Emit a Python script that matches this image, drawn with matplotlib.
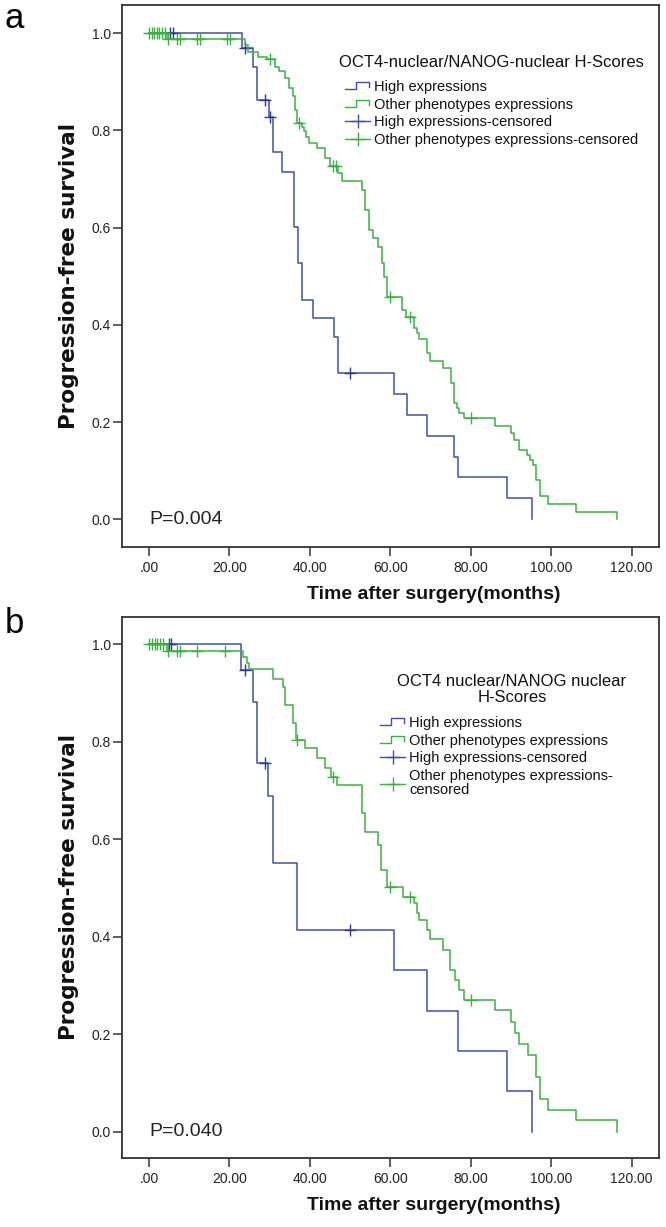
import matplotlib
matplotlib.use("Agg")
import matplotlib.pyplot as plt
import numpy as np
from matplotlib.lines import Line2D
from matplotlib.legend_handler import HandlerBase
from matplotlib.ticker import FuncFormatter

# ---- data ----
# panel a
a_high_t = [23.1, 25.9, 26.8, 29.9, 30.9, 33.0, 36.1, 37.0, 38.0, 40.9, 46.1, 47.1,
            61.0, 64.1, 69.1, 75.9, 76.9, 89.1, 95.2]
a_high_s = [0.969, 0.931, 0.862, 0.828, 0.755, 0.715, 0.602, 0.527, 0.451, 0.414, 0.376, 0.300,
            0.258, 0.215, 0.172, 0.129, 0.086, 0.043, 0.0]
a_high_cens = [5.2, 5.9, 24.0, 28.9, 30.2, 50.0]

a_other_t = [4.4, 23.9, 24.7, 27.2, 29.3, 31.3, 32.4, 33.8, 34.7, 35.9,
             36.3, 36.9, 38.0, 38.6, 39.1, 39.9, 41.7, 43.8, 44.9, 46.9,
             47.9, 52.9, 53.7, 54.6, 55.8, 57.0, 57.9, 58.5, 59.3, 62.9,
             63.9, 65.8, 66.6, 67.2, 69.1, 69.9, 73.2, 75.1, 75.9, 76.5,
             77.2, 78.2, 86.1, 90.0, 90.8, 92.1, 93.9, 94.8, 95.6, 96.2,
             97.3, 99.3, 106.2, 116.3]
a_other_s = [0.988, 0.976, 0.962, 0.952, 0.946, 0.931, 0.922, 0.907, 0.887, 0.870,
             0.842, 0.815, 0.806, 0.798, 0.787, 0.774, 0.763, 0.743, 0.727, 0.712,
             0.695, 0.678, 0.636, 0.595, 0.578, 0.561, 0.527, 0.499, 0.458, 0.431,
             0.417, 0.393, 0.383, 0.370, 0.342, 0.326, 0.311, 0.280, 0.239, 0.228,
             0.218, 0.208, 0.192, 0.177, 0.163, 0.143, 0.132, 0.122, 0.112, 0.081,
             0.048, 0.031, 0.016, 0.0]
a_other_cens = [0.0, 0.7, 1.3, 2.0, 2.6, 3.3, 4.0, 4.8, 6.9, 7.7, 11.9, 12.7, 19.3, 20.1,
                30.0, 37.3, 45.8, 46.4, 60.0, 64.9, 80.0]

# panel b
b_high_t = [22.9, 25.9, 26.8, 29.7, 30.9, 36.7, 61.0, 69.1, 76.9, 89.1, 95.2]
b_high_s = [0.947, 0.881, 0.756, 0.688, 0.551, 0.413, 0.331, 0.248, 0.166, 0.084, 0.0]
b_high_cens = [4.9, 5.6, 24.0, 28.9, 50.0]

b_other_t = [4.4, 23.5, 24.4, 24.9, 30.9, 33.4, 33.8, 35.9, 36.5, 38.8,
             41.7, 43.8, 45.2, 46.8, 52.9, 53.7, 57.0, 57.8, 59.1, 63.2,
             65.8, 66.6, 67.2, 69.1, 69.9, 73.2, 74.9, 76.1, 77.2, 78.2,
             86.1, 90.0, 91.0, 92.1, 94.2, 96.2, 97.1, 99.3, 106.2, 116.3]
b_other_s = [0.986, 0.974, 0.962, 0.949, 0.930, 0.912, 0.876, 0.839, 0.804, 0.787,
             0.767, 0.746, 0.729, 0.712, 0.654, 0.616, 0.589, 0.537, 0.503, 0.481,
             0.469, 0.448, 0.435, 0.414, 0.395, 0.373, 0.332, 0.311, 0.291, 0.270,
             0.250, 0.226, 0.202, 0.180, 0.157, 0.113, 0.067, 0.045, 0.024, 0.0]
b_other_cens = [0.0, 0.7, 1.4, 2.1, 2.8, 3.5, 4.8, 6.9, 7.7, 11.9, 18.9,
                36.8, 45.8, 60.0, 64.9, 80.0]

x_ticks = [0, 20, 40, 60, 80, 100, 120]
y_ticks = [0.0, 0.2, 0.4, 0.6, 0.8, 1.0]

legend_labels_a = ["High expressions", "Other phenotypes expressions",
                   "High expressions-censored", "Other phenotypes expressions-censored"]
legend_labels_b = ["High expressions", "Other phenotypes expressions",
                   "High expressions-censored", "Other phenotypes expressions-\ncensored"]

BLUE = "#3f51a5"
BLUE_DARK = "#2b3b8f"
GREEN = "#3cb043"
FRAME = "#333333"
SANS = "Liberation Sans"


class StepHandler(HandlerBase):
    # little step glyph like the SPSS legend
    def create_artists(self, legend, orig_handle, xdescent, ydescent, width, height, fontsize, trans):
        x0, y0 = -xdescent, -ydescent
        xs = [x0, x0 + 0.45 * width, x0 + 0.45 * width, x0 + 0.95 * width, x0 + 0.95 * width]
        ys = [y0 + 0.2 * height, y0 + 0.2 * height, y0 + 0.85 * height, y0 + 0.85 * height, y0 + 0.4 * height]
        ln = Line2D(xs, ys, color=orig_handle.get_color(), lw=1.0, transform=trans)
        return [ln]


def km(ax, t, s, cens, color, mcolor):
    tt = np.r_[0.0, t]
    ss = np.r_[1.0, s]
    ax.step(tt, ss, where="post", color=color, lw=1.1)
    idx = np.searchsorted(tt, cens, side="right") - 1
    ax.plot(cens, ss[idx], linestyle="none", marker="+", markersize=8,
            markeredgewidth=1.0, color=mcolor)


def style(ax, ylim):
    ax.set_xlim(-6.7, 126.8)
    ax.set_ylim(*ylim)
    ax.set_xticks(x_ticks)
    ax.set_yticks(y_ticks)
    ax.xaxis.set_major_formatter(FuncFormatter(lambda v, p: ("%.2f" % v).lstrip("0") if v == 0 else "%.2f" % v))
    ax.yaxis.set_major_formatter(FuncFormatter(lambda v, p: "%.1f" % v))
    for sp in ax.spines.values():
        sp.set_color(FRAME)
        sp.set_linewidth(1.3)
    ax.tick_params(axis="both", direction="out", length=6.5, width=1.1, color=FRAME,
                   labelcolor="#222222", labelsize=10)
    ax.tick_params(axis="x", pad=3.5)
    ax.tick_params(axis="y", pad=1.5)
    for lab in ax.get_xticklabels() + ax.get_yticklabels():
        lab.set_family(SANS)
    ax.set_xlabel("Time after surgery(months)", fontsize=14, fontweight="bold", family=SANS, color="#111111")
    ax.xaxis.set_label_coords(0.581, -0.072)
    ax.set_ylabel("Progression-free survival", fontsize=15.5, fontweight="bold", family="DejaVu Sans", color="#111111")
    ax.yaxis.set_label_coords(-0.08, 0.5)


def legend(ax, labels, anchor):
    hb = Line2D([], [], color=BLUE)
    hg = Line2D([], [], color=GREEN)
    cb = Line2D([], [], color=BLUE, lw=1.0, marker="+", markersize=10, markeredgewidth=1.0)
    cg = Line2D([], [], color=GREEN, lw=1.0, marker="+", markersize=10, markeredgewidth=1.0)
    leg = ax.legend([hb, hg, cb, cg], labels, handler_map={hb: StepHandler(), hg: StepHandler()},
                    loc="upper left", bbox_to_anchor=anchor, frameon=False, borderpad=0,
                    borderaxespad=0, handlelength=1.75, handletextpad=0.25, labelspacing=0.26,
                    numpoints=1, prop={"family": SANS, "size": 10.5})
    for txt in leg.get_texts():
        txt.set_color("#111111")
        txt.set_linespacing(1.0)
    return leg


fig = plt.figure(figsize=(6.66, 12.27), dpi=100)
fig.patch.set_facecolor("white")

ax1 = fig.add_axes([122 / 666, 1 - 547 / 1227, 537 / 666, 542 / 1227])
km(ax1, a_high_t, a_high_s, a_high_cens, BLUE, BLUE_DARK)
km(ax1, a_other_t, a_other_s, a_other_cens, GREEN, GREEN)
style(ax1, (-0.057, 1.058))
ax1.text(0.688, 0.893, "OCT4-nuclear/NANOG-nuclear H-Scores", transform=ax1.transAxes,
         ha="center", va="center", fontsize=12, family=SANS, color="#111111")
legend(ax1, legend_labels_a, (0.415, 0.862))
ax1.text(0, 0, "P=0.004", ha="left", va="center", fontsize=14, family=SANS, color="#222222")

ax2 = fig.add_axes([122 / 666, 1 - 1158.3 / 1227, 537 / 666, 541.6 / 1227])
km(ax2, b_high_t, b_high_s, b_high_cens, BLUE, BLUE_DARK)
km(ax2, b_other_t, b_other_s, b_other_cens, GREEN, GREEN)
style(ax2, (-0.0546, 1.057))
ax2.text(0.726, 0.866, "OCT4 nuclear/NANOG nuclear\nH-Scores", transform=ax2.transAxes,
         ha="center", va="center", fontsize=12, family=SANS, color="#111111", linespacing=1.05)
legend(ax2, legend_labels_b, (0.480, 0.817))
ax2.text(0, 0, "P=0.040", ha="left", va="center", fontsize=14, family=SANS, color="#222222")

fig.text(5 / 666, 1 - 28 / 1227, "a", fontsize=25, family=SANS, ha="left", va="baseline")
fig.text(5 / 666, 1 - 633 / 1227, "b", fontsize=25, family=SANS, ha="left", va="baseline")

fig.savefig("out.png", dpi=100)
